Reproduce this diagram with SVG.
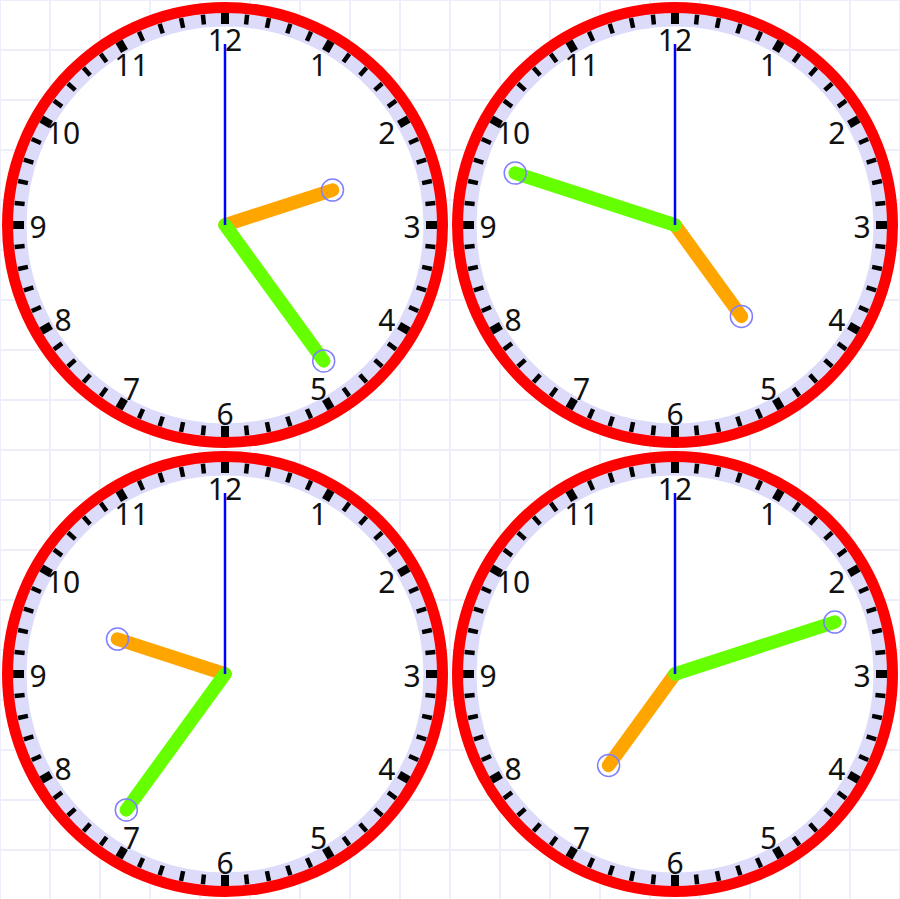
<svg xmlns="http://www.w3.org/2000/svg" xmlns:xlink="http://www.w3.org/1999/xlink" width="900" height="899" viewBox="0 0 900 899">
<style>
.grid line{stroke:#eeeefb;stroke-width:2}
.num{font-family:"Noto Sans","DejaVu Sans",sans-serif;font-size:30px;fill:#111;text-anchor:middle}
.hour{stroke:#ffa500;stroke-width:13.5;stroke-linecap:round}
.min{stroke:#66ff00;stroke-width:13.5;stroke-linecap:round}
.sec{stroke:#0000ff;stroke-width:2.5}
.tip{fill:none;stroke:#8080ff;stroke-width:1.5}
</style>
<defs>
<line id="mt" x1="0" y1="-212" x2="0" y2="-201" stroke="#000" stroke-width="8"/>
<line id="nt" x1="0" y1="-211.5" x2="0" y2="-201.5" stroke="#000" stroke-width="4.5"/>
<g id="face">
<circle r="205.5" fill="#fff" stroke="#dcdcfa" stroke-width="14"/>
<circle r="217.5" fill="none" stroke="#ff0000" stroke-width="11"/>
<use href="#mt"/><use href="#mt" transform="rotate(30)"/><use href="#mt" transform="rotate(60)"/><use href="#mt" transform="rotate(90)"/><use href="#mt" transform="rotate(120)"/><use href="#mt" transform="rotate(150)"/><use href="#mt" transform="rotate(180)"/><use href="#mt" transform="rotate(210)"/><use href="#mt" transform="rotate(240)"/><use href="#mt" transform="rotate(270)"/><use href="#mt" transform="rotate(300)"/><use href="#mt" transform="rotate(330)"/>
<use href="#nt" transform="rotate(6)"/><use href="#nt" transform="rotate(12)"/><use href="#nt" transform="rotate(18)"/><use href="#nt" transform="rotate(24)"/>
<use href="#nt" transform="rotate(36)"/><use href="#nt" transform="rotate(42)"/><use href="#nt" transform="rotate(48)"/><use href="#nt" transform="rotate(54)"/>
<use href="#nt" transform="rotate(66)"/><use href="#nt" transform="rotate(72)"/><use href="#nt" transform="rotate(78)"/><use href="#nt" transform="rotate(84)"/>
<use href="#nt" transform="rotate(96)"/><use href="#nt" transform="rotate(102)"/><use href="#nt" transform="rotate(108)"/><use href="#nt" transform="rotate(114)"/>
<use href="#nt" transform="rotate(126)"/><use href="#nt" transform="rotate(132)"/><use href="#nt" transform="rotate(138)"/><use href="#nt" transform="rotate(144)"/>
<use href="#nt" transform="rotate(156)"/><use href="#nt" transform="rotate(162)"/><use href="#nt" transform="rotate(168)"/><use href="#nt" transform="rotate(174)"/>
<use href="#nt" transform="rotate(186)"/><use href="#nt" transform="rotate(192)"/><use href="#nt" transform="rotate(198)"/><use href="#nt" transform="rotate(204)"/>
<use href="#nt" transform="rotate(216)"/><use href="#nt" transform="rotate(222)"/><use href="#nt" transform="rotate(228)"/><use href="#nt" transform="rotate(234)"/>
<use href="#nt" transform="rotate(246)"/><use href="#nt" transform="rotate(252)"/><use href="#nt" transform="rotate(258)"/><use href="#nt" transform="rotate(264)"/>
<use href="#nt" transform="rotate(276)"/><use href="#nt" transform="rotate(282)"/><use href="#nt" transform="rotate(288)"/><use href="#nt" transform="rotate(294)"/>
<use href="#nt" transform="rotate(306)"/><use href="#nt" transform="rotate(312)"/><use href="#nt" transform="rotate(318)"/><use href="#nt" transform="rotate(324)"/>
<use href="#nt" transform="rotate(336)"/><use href="#nt" transform="rotate(342)"/><use href="#nt" transform="rotate(348)"/><use href="#nt" transform="rotate(354)"/>
<text class="num" x="93.5" y="-149.2">1</text>
<text class="num" x="161.9" y="-80.8">2</text>
<text class="num" x="187" y="12.7">3</text>
<text class="num" x="161.9" y="106.2">4</text>
<text class="num" x="93.5" y="174.6">5</text>
<text class="num" x="0" y="199.7">6</text>
<text class="num" x="-93.5" y="174.6">7</text>
<text class="num" x="-161.9" y="106.2">8</text>
<text class="num" x="-187" y="12.7">9</text>
<text class="num" x="-161.9" y="-80.8">10</text>
<text class="num" x="-93.5" y="-149.2">11</text>
<text class="num" x="0" y="-174.3">12</text>
</g>
</defs>
<rect width="900" height="899" fill="#fff"/>
<g class="grid">
<line x1="0" y1="0" x2="0" y2="899"/><line x1="50" y1="0" x2="50" y2="899"/><line x1="100" y1="0" x2="100" y2="899"/><line x1="150" y1="0" x2="150" y2="899"/><line x1="200" y1="0" x2="200" y2="899"/><line x1="250" y1="0" x2="250" y2="899"/><line x1="300" y1="0" x2="300" y2="899"/><line x1="350" y1="0" x2="350" y2="899"/><line x1="400" y1="0" x2="400" y2="899"/><line x1="450" y1="0" x2="450" y2="899"/><line x1="500" y1="0" x2="500" y2="899"/><line x1="550" y1="0" x2="550" y2="899"/><line x1="600" y1="0" x2="600" y2="899"/><line x1="650" y1="0" x2="650" y2="899"/><line x1="700" y1="0" x2="700" y2="899"/><line x1="750" y1="0" x2="750" y2="899"/><line x1="800" y1="0" x2="800" y2="899"/><line x1="850" y1="0" x2="850" y2="899"/><line x1="900" y1="0" x2="900" y2="899"/>
<line x1="0" y1="0" x2="900" y2="0"/><line x1="0" y1="50" x2="900" y2="50"/><line x1="0" y1="100" x2="900" y2="100"/><line x1="0" y1="150" x2="900" y2="150"/><line x1="0" y1="200" x2="900" y2="200"/><line x1="0" y1="250" x2="900" y2="250"/><line x1="0" y1="300" x2="900" y2="300"/><line x1="0" y1="350" x2="900" y2="350"/><line x1="0" y1="400" x2="900" y2="400"/><line x1="0" y1="450" x2="900" y2="450"/><line x1="0" y1="500" x2="900" y2="500"/><line x1="0" y1="550" x2="900" y2="550"/><line x1="0" y1="600" x2="900" y2="600"/><line x1="0" y1="650" x2="900" y2="650"/><line x1="0" y1="700" x2="900" y2="700"/><line x1="0" y1="750" x2="900" y2="750"/><line x1="0" y1="800" x2="900" y2="800"/><line x1="0" y1="850" x2="900" y2="850"/>
</g>
<g id="clock-1" transform="translate(225,225)">
<use href="#face"/>
<line class="hour" x1="0" y1="0" x2="107.5" y2="-34.9"/>
<line class="min" x1="0" y1="0" x2="98.7" y2="135.9"/>
<line class="sec" x1="0" y1="0" x2="0" y2="-181"/>
<circle class="tip" cx="107.5" cy="-34.9" r="11"/>
<circle class="tip" cx="98.7" cy="135.9" r="11"/>
</g>
<g id="clock-2" transform="translate(675,225)">
<use href="#face"/>
<line class="hour" x1="0" y1="0" x2="66.4" y2="91.4"/>
<line class="min" x1="0" y1="0" x2="-159.8" y2="-51.9"/>
<line class="sec" x1="0" y1="0" x2="0" y2="-181"/>
<circle class="tip" cx="66.4" cy="91.4" r="11"/>
<circle class="tip" cx="-159.8" cy="-51.9" r="11"/>
</g>
<g id="clock-3" transform="translate(225,674)">
<use href="#face"/>
<line class="hour" x1="0" y1="0" x2="-107.5" y2="-34.9"/>
<line class="min" x1="0" y1="0" x2="-98.7" y2="135.9"/>
<line class="sec" x1="0" y1="0" x2="0" y2="-181"/>
<circle class="tip" cx="-107.5" cy="-34.9" r="11"/>
<circle class="tip" cx="-98.7" cy="135.9" r="11"/>
</g>
<g id="clock-4" transform="translate(675,674)">
<use href="#face"/>
<line class="hour" x1="0" y1="0" x2="-66.4" y2="91.4"/>
<line class="min" x1="0" y1="0" x2="159.8" y2="-51.9"/>
<line class="sec" x1="0" y1="0" x2="0" y2="-181"/>
<circle class="tip" cx="-66.4" cy="91.4" r="11"/>
<circle class="tip" cx="159.8" cy="-51.9" r="11"/>
</g>
</svg>
